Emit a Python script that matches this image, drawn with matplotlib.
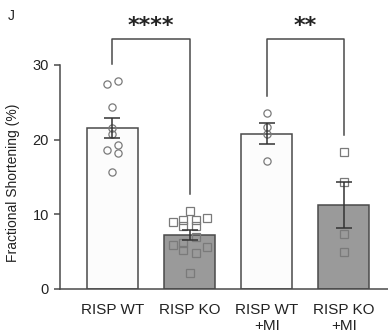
import matplotlib
matplotlib.use("Agg")
import matplotlib.pyplot as plt

# data
groups = ["RISP WT", "RISP KO", "RISP WT\n+MI", "RISP KO\n+MI"]
means = [21.5, 7.2, 20.8, 11.2]
sems = [1.35, 0.65, 1.35, 3.1]
bar_colors = ["#fcfcfc", "#9a9a9a", "#fcfcfc", "#9a9a9a"]
markers = ["o", "s", "o", "s"]

wt_pts = [27.5, 27.8, 24.4, 21.6, 20.7, 18.6, 19.3, 18.2, 15.6]
wt_off = [-0.07, 0.07, 0.0, 0.0, 0.0, -0.07, 0.07, 0.07, 0.0]
ko_pts = [10.4, 9.0, 9.3, 9.2, 9.5, 8.4, 8.4, 6.9, 5.9, 6.2, 5.2, 4.8, 5.6, 2.1]
ko_off = [0.0, -0.22, -0.08, 0.08, 0.22, -0.08, 0.08, 0.08, -0.22, -0.08, -0.08, 0.08, 0.22, 0.0]
wtmi_pts = [23.6, 21.7, 20.8, 17.1]
wtmi_off = [0, 0, 0, 0]
komi_pts = [18.4, 14.3, 7.4, 4.9]
komi_off = [0, 0, 0, 0]

points = [wt_pts, ko_pts, wtmi_pts, komi_pts]
offsets = [wt_off, ko_off, wtmi_off, komi_off]

# brackets: (x1, x2, y_top, left leg end, right leg end, label)
brackets = [(0, 1, 33.5, 30.1, 12.7, "****"), (2, 3, 33.5, 25.8, 20.6, "**")]

plt.rcParams["font.family"] = ["Liberation Sans", "DejaVu Sans"]
edge = "#4a4a4a"

fig = plt.figure(figsize=(3.88, 3.33), dpi=100)
ax = fig.add_axes([60 / 388, 44 / 333, 328 / 388, 269 / 333])

x = list(range(len(groups)))
ax.bar(x, means, width=0.66, color=bar_colors, edgecolor=edge, linewidth=1.1, zorder=1)

for i in x:
    xs = [i + o for o in offsets[i]]
    ax.plot(xs, points[i], linestyle="none", marker=markers[i], markersize=5.2,
            markerfacecolor="none", markeredgecolor="#7a7a7a", markeredgewidth=0.9, zorder=3)

ax.errorbar(x, means, yerr=sems, fmt="none", ecolor="#333333", elinewidth=1.1,
            capsize=6, capthick=1.1, zorder=4)

for x1, x2, ytop, yl, yr, lab in brackets:
    ax.plot([x1, x1, x2, x2], [yl, ytop, ytop, yr], color=edge, linewidth=1.1,
            clip_on=False, zorder=2)
    ax.text((x1 + x2) / 2, 33.9, lab, ha="center", va="bottom", fontsize=16,
            fontweight="bold", family="DejaVu Sans", color="#222222")

ax.set_xlim(-0.677, 3.57)
ax.set_ylim(0, 36)
ax.set_yticks([0, 10, 20, 30])
ax.set_xticks(x)
ax.set_xticklabels(groups, fontsize=11, color="#222222")
ax.tick_params(axis="x", length=0, pad=10)
ax.tick_params(axis="y", length=4, width=1.1, color=edge, labelsize=10.5,
               labelcolor="#222222", pad=4)

for s in ["top", "right"]:
    ax.spines[s].set_visible(False)
for s in ["left", "bottom"]:
    ax.spines[s].set_color(edge)
    ax.spines[s].set_linewidth(1.1)
ax.spines["left"].set_bounds(0, 30)

ax.set_ylabel("Fractional Shortening (%)", fontsize=10, color="#222222")
ax.yaxis.set_label_coords(-0.122, 0.394)

fig.text(8 / 388, 1 - 16 / 333, "J", fontsize=10, color="#222222", va="center")

fig.savefig("out.png", dpi=100)
